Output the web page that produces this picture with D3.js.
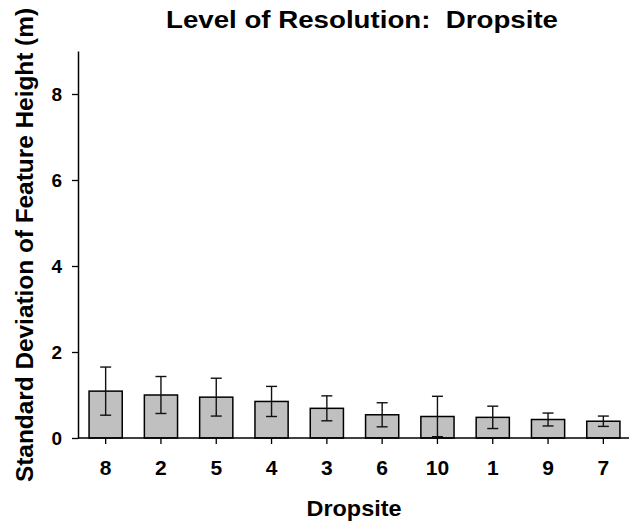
<!DOCTYPE html>
<html>
<head>
<meta charset="utf-8">
<script src="https://cdn.jsdelivr.net/npm/d3@7"></script>
<style>
  body { margin: 0; background: #fff; }
  text { font-family: "Liberation Sans", Arial, sans-serif; font-weight: bold; fill: #000; white-space: pre; }
</style>
</head>
<body>
<div id="chart"></div>
<script>
// Dropsites in plotted order
const sites = ['8', '2', '5', '4', '3', '6', '10', '1', '9', '7'];
// Mean standard deviation of feature height (m)
const means = [1.09, 1.00, 0.95, 0.85, 0.69, 0.54, 0.50, 0.48, 0.43, 0.39];
// Error (half-length of the error bar)
const errs = [0.56, 0.43, 0.44, 0.35, 0.29, 0.28, 0.47, 0.26, 0.15, 0.12];
const yTicks = [0, 2, 4, 6, 8];

const W = 630, H = 524;
const margin = { top: 51, right: 0, bottom: 86, left: 78 };

const svg = d3.select('#chart').append('svg')
  .attr('width', W)
  .attr('height', H);

var x = d3.scaleBand()
  .domain(sites)
  .range([margin.left, 631]);
var y = d3.scaleLinear()
  .domain([0, 9])
  .range([H - margin.bottom, margin.top]);

const barW = x.bandwidth() * 0.6;
const cx = d => x(d) + x.bandwidth() / 2;

// bars
svg.selectAll('.bar')
  .data(sites)
  .enter().append('rect')
    .attr('class', 'bar')
    .attr('x', d => cx(d) - barW / 2)
    .attr('width', barW)
    .attr('y', (d, i) => y(means[i]))
    .attr('height', (d, i) => y(0) - y(means[i]))
    .attr('fill', '#c0c0c0')
    .attr('stroke', '#000')
    .attr('stroke-width', 1.5);

// error bars
const eb = svg.selectAll('.err')
  .data(sites)
  .enter().append('g')
    .attr('class', 'err')
    .attr('stroke', '#111')
    .attr('stroke-width', 1.4);
eb.append('line')
  .attr('x1', d => cx(d)).attr('x2', d => cx(d))
  .attr('y1', (d, i) => y(means[i] + errs[i]))
  .attr('y2', (d, i) => y(means[i] - errs[i]));
eb.append('line')
  .attr('x1', d => cx(d) - 5.5).attr('x2', d => cx(d) + 5.5)
  .attr('y1', (d, i) => y(means[i] + errs[i]))
  .attr('y2', (d, i) => y(means[i] + errs[i]));
eb.append('line')
  .attr('x1', d => cx(d) - 5.5).attr('x2', d => cx(d) + 5.5)
  .attr('y1', (d, i) => y(means[i] - errs[i]))
  .attr('y2', (d, i) => y(means[i] - errs[i]));

// axes
const xAxis = svg.append('g')
  .attr('transform', 'translate(0,' + y(0) + ')')
  .call(d3.axisBottom(x).tickSize(6).tickPadding(16).tickSizeOuter(0));
xAxis.select('.domain').attr('d', 'M' + margin.left + ',0H629').attr('stroke-width', 1.5);
xAxis.selectAll('.tick text').attr('font-size', '21px');

const yAxis = svg.append('g')
  .attr('transform', 'translate(' + margin.left + ',0)')
  .call(d3.axisLeft(y).tickValues(yTicks).tickSize(6).tickPadding(10).tickSizeOuter(0));
yAxis.select('.domain').attr('stroke-width', 1.5);
yAxis.selectAll('.tick text').attr('font-size', '19px');

svg.selectAll('.tick text')
  .attr('font-family', '"Liberation Sans", Arial, sans-serif')
  .attr('font-weight', 'bold')
  .attr('fill', '#000');
svg.selectAll('.tick line').attr('stroke-width', 1.3);

// title
svg.append('text')
  .attr('x', 362)
  .attr('y', 28)
  .attr('text-anchor', 'middle')
  .attr('font-size', '23px')
  .attr('textLength', 392)
  .attr('lengthAdjust', 'spacingAndGlyphs')
  .text('Level of Resolution:  Dropsite');

// X axis label
svg.append('text')
  .attr('x', 354)
  .attr('y', 516)
  .attr('text-anchor', 'middle')
  .attr('font-size', '22px')
  .attr('textLength', 95)
  .attr('lengthAdjust', 'spacingAndGlyphs')
  .text('Dropsite');

// Y axis label
svg.append('text')
  .attr('transform', 'translate(33,245) rotate(-90)')
  .attr('text-anchor', 'middle')
  .attr('font-size', '24px')
  .attr('textLength', 474)
  .attr('lengthAdjust', 'spacingAndGlyphs')
  .text('Standard Deviation of Feature Height (m)');
</script>
</body>
</html>
